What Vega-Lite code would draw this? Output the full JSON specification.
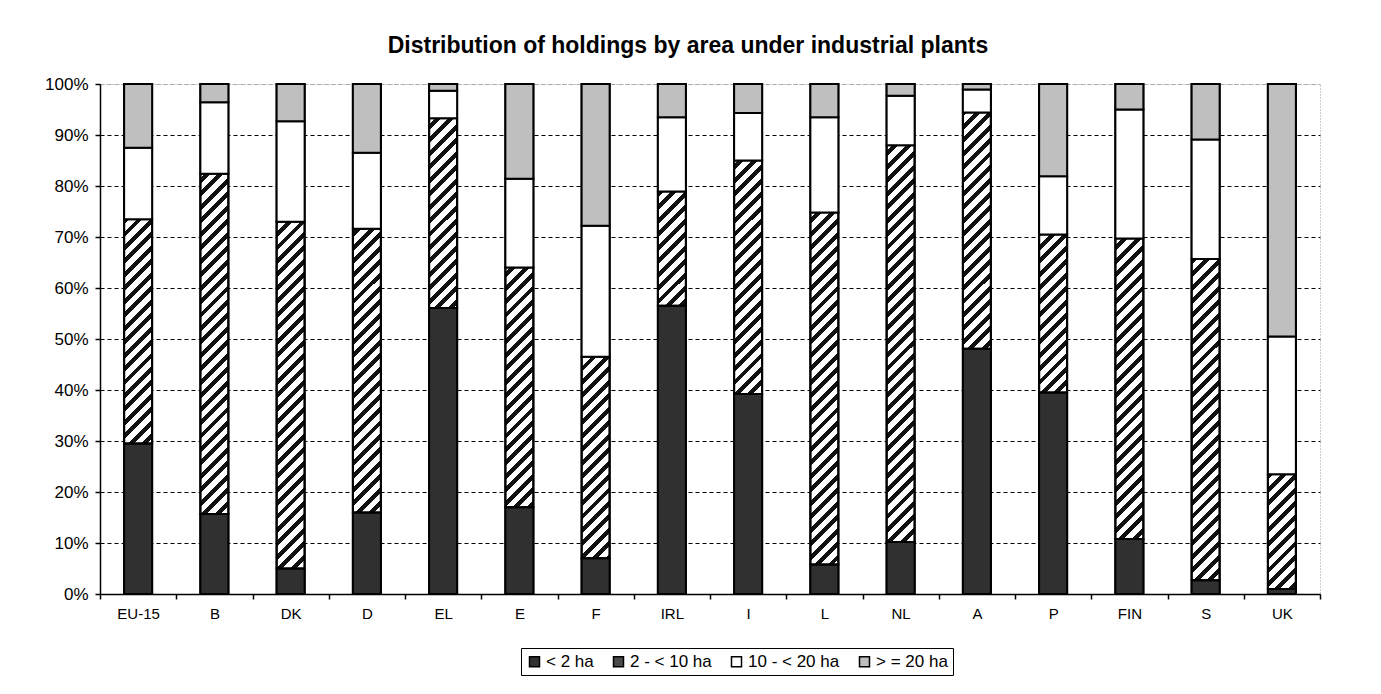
{
"$schema": "https://vega.github.io/schema/vega-lite/v6.json",
"autosize": {"type": "none"},
"width": 1220,
"height": 510,
"padding": {"left": 100, "top": 84, "right": 61, "bottom": 100},
"background": "white",
"title": {"text": "Distribution of holdings by area under industrial plants", "font": "Liberation Sans", "fontSize": 23, "fontWeight": "bold", "color": "black", "anchor": "middle", "frame": "group", "offset": 17, "dx": -22},
"config": {
  "view": {"stroke": "#999999", "strokeDash": [1, 2], "strokeWidth": 1},
  "axis": {"labelFont": "Liberation Sans", "labelColor": "black", "domainColor": "black", "domainWidth": 1.5, "tickColor": "black", "tickWidth": 1.5, "tickSize": 5, "title": null}
},
"data": {"values": [
{"country":"EU-15","cls":"< 2 ha","pct":29.5},{"country":"EU-15","cls":"2 - < 10 ha","pct":44},{"country":"EU-15","cls":"10 - < 20 ha","pct":14},{"country":"EU-15","cls":"> = 20 ha","pct":12.5},
{"country":"B","cls":"< 2 ha","pct":15.7},{"country":"B","cls":"2 - < 10 ha","pct":66.7},{"country":"B","cls":"10 - < 20 ha","pct":14},{"country":"B","cls":"> = 20 ha","pct":3.6},
{"country":"DK","cls":"< 2 ha","pct":5},{"country":"DK","cls":"2 - < 10 ha","pct":68},{"country":"DK","cls":"10 - < 20 ha","pct":19.7},{"country":"DK","cls":"> = 20 ha","pct":7.3},
{"country":"D","cls":"< 2 ha","pct":16},{"country":"D","cls":"2 - < 10 ha","pct":55.6},{"country":"D","cls":"10 - < 20 ha","pct":14.9},{"country":"D","cls":"> = 20 ha","pct":13.5},
{"country":"EL","cls":"< 2 ha","pct":56.1},{"country":"EL","cls":"2 - < 10 ha","pct":37.2},{"country":"EL","cls":"10 - < 20 ha","pct":5.4},{"country":"EL","cls":"> = 20 ha","pct":1.3},
{"country":"E","cls":"< 2 ha","pct":17},{"country":"E","cls":"2 - < 10 ha","pct":47},{"country":"E","cls":"10 - < 20 ha","pct":17.4},{"country":"E","cls":"> = 20 ha","pct":18.6},
{"country":"F","cls":"< 2 ha","pct":7},{"country":"F","cls":"2 - < 10 ha","pct":39.5},{"country":"F","cls":"10 - < 20 ha","pct":25.7},{"country":"F","cls":"> = 20 ha","pct":27.8},
{"country":"IRL","cls":"< 2 ha","pct":56.5},{"country":"IRL","cls":"2 - < 10 ha","pct":22.4},{"country":"IRL","cls":"10 - < 20 ha","pct":14.6},{"country":"IRL","cls":"> = 20 ha","pct":6.5},
{"country":"I","cls":"< 2 ha","pct":39.2},{"country":"I","cls":"2 - < 10 ha","pct":45.8},{"country":"I","cls":"10 - < 20 ha","pct":9.3},{"country":"I","cls":"> = 20 ha","pct":5.7},
{"country":"L","cls":"< 2 ha","pct":5.8},{"country":"L","cls":"2 - < 10 ha","pct":69},{"country":"L","cls":"10 - < 20 ha","pct":18.7},{"country":"L","cls":"> = 20 ha","pct":6.5},
{"country":"NL","cls":"< 2 ha","pct":10.2},{"country":"NL","cls":"2 - < 10 ha","pct":77.8},{"country":"NL","cls":"10 - < 20 ha","pct":9.7},{"country":"NL","cls":"> = 20 ha","pct":2.3},
{"country":"A","cls":"< 2 ha","pct":48.1},{"country":"A","cls":"2 - < 10 ha","pct":46.3},{"country":"A","cls":"10 - < 20 ha","pct":4.5},{"country":"A","cls":"> = 20 ha","pct":1.1},
{"country":"P","cls":"< 2 ha","pct":39.5},{"country":"P","cls":"2 - < 10 ha","pct":31},{"country":"P","cls":"10 - < 20 ha","pct":11.4},{"country":"P","cls":"> = 20 ha","pct":18.1},
{"country":"FIN","cls":"< 2 ha","pct":10.8},{"country":"FIN","cls":"2 - < 10 ha","pct":58.9},{"country":"FIN","cls":"10 - < 20 ha","pct":25.3},{"country":"FIN","cls":"> = 20 ha","pct":5},
{"country":"S","cls":"< 2 ha","pct":2.7},{"country":"S","cls":"2 - < 10 ha","pct":63},{"country":"S","cls":"10 - < 20 ha","pct":23.4},{"country":"S","cls":"> = 20 ha","pct":10.9},
{"country":"UK","cls":"< 2 ha","pct":1},{"country":"UK","cls":"2 - < 10 ha","pct":22.5},{"country":"UK","cls":"10 - < 20 ha","pct":27},{"country":"UK","cls":"> = 20 ha","pct":49.5}
]},
"encoding": {
  "x": {"field": "country", "type": "nominal",
    "sort": ["EU-15","B","DK","D","EL","E","F","IRL","I","L","NL","A","P","FIN","S","UK"],
    "scale": {"paddingInner": 0, "paddingOuter": 0},
    "axis": {"labelAngle": 0, "labelFontSize": 15, "labelPadding": 7, "tickBand": "extent", "grid": false}}
},
"layer": [
  {
    "mark": {"type": "bar", "width": 28, "stroke": "black", "strokeWidth": 2,
      "fill": {"gradient": "linear", "x1": 0, "y1": 0, "x2": 0.0577, "y2": 1.0517, "stops": [
{"offset":0,"color":"#111"},{"offset":0.011,"color":"#111"},{"offset":0.011,"color":"#fff"},{"offset":0.025,"color":"#fff"},
{"offset":0.025,"color":"#111"},{"offset":0.036,"color":"#111"},{"offset":0.036,"color":"#fff"},{"offset":0.05,"color":"#fff"},
{"offset":0.05,"color":"#111"},{"offset":0.061,"color":"#111"},{"offset":0.061,"color":"#fff"},{"offset":0.075,"color":"#fff"},
{"offset":0.075,"color":"#111"},{"offset":0.086,"color":"#111"},{"offset":0.086,"color":"#fff"},{"offset":0.1,"color":"#fff"},
{"offset":0.1,"color":"#111"},{"offset":0.111,"color":"#111"},{"offset":0.111,"color":"#fff"},{"offset":0.125,"color":"#fff"},
{"offset":0.125,"color":"#111"},{"offset":0.136,"color":"#111"},{"offset":0.136,"color":"#fff"},{"offset":0.15,"color":"#fff"},
{"offset":0.15,"color":"#111"},{"offset":0.161,"color":"#111"},{"offset":0.161,"color":"#fff"},{"offset":0.175,"color":"#fff"},
{"offset":0.175,"color":"#111"},{"offset":0.186,"color":"#111"},{"offset":0.186,"color":"#fff"},{"offset":0.2,"color":"#fff"},
{"offset":0.2,"color":"#111"},{"offset":0.211,"color":"#111"},{"offset":0.211,"color":"#fff"},{"offset":0.225,"color":"#fff"},
{"offset":0.225,"color":"#111"},{"offset":0.236,"color":"#111"},{"offset":0.236,"color":"#fff"},{"offset":0.25,"color":"#fff"},
{"offset":0.25,"color":"#111"},{"offset":0.261,"color":"#111"},{"offset":0.261,"color":"#fff"},{"offset":0.275,"color":"#fff"},
{"offset":0.275,"color":"#111"},{"offset":0.286,"color":"#111"},{"offset":0.286,"color":"#fff"},{"offset":0.3,"color":"#fff"},
{"offset":0.3,"color":"#111"},{"offset":0.311,"color":"#111"},{"offset":0.311,"color":"#fff"},{"offset":0.325,"color":"#fff"},
{"offset":0.325,"color":"#111"},{"offset":0.336,"color":"#111"},{"offset":0.336,"color":"#fff"},{"offset":0.35,"color":"#fff"},
{"offset":0.35,"color":"#111"},{"offset":0.361,"color":"#111"},{"offset":0.361,"color":"#fff"},{"offset":0.375,"color":"#fff"},
{"offset":0.375,"color":"#111"},{"offset":0.386,"color":"#111"},{"offset":0.386,"color":"#fff"},{"offset":0.4,"color":"#fff"},
{"offset":0.4,"color":"#111"},{"offset":0.411,"color":"#111"},{"offset":0.411,"color":"#fff"},{"offset":0.425,"color":"#fff"},
{"offset":0.425,"color":"#111"},{"offset":0.436,"color":"#111"},{"offset":0.436,"color":"#fff"},{"offset":0.45,"color":"#fff"},
{"offset":0.45,"color":"#111"},{"offset":0.461,"color":"#111"},{"offset":0.461,"color":"#fff"},{"offset":0.475,"color":"#fff"},
{"offset":0.475,"color":"#111"},{"offset":0.486,"color":"#111"},{"offset":0.486,"color":"#fff"},{"offset":0.5,"color":"#fff"},
{"offset":0.5,"color":"#111"},{"offset":0.511,"color":"#111"},{"offset":0.511,"color":"#fff"},{"offset":0.525,"color":"#fff"},
{"offset":0.525,"color":"#111"},{"offset":0.536,"color":"#111"},{"offset":0.536,"color":"#fff"},{"offset":0.55,"color":"#fff"},
{"offset":0.55,"color":"#111"},{"offset":0.561,"color":"#111"},{"offset":0.561,"color":"#fff"},{"offset":0.575,"color":"#fff"},
{"offset":0.575,"color":"#111"},{"offset":0.586,"color":"#111"},{"offset":0.586,"color":"#fff"},{"offset":0.6,"color":"#fff"},
{"offset":0.6,"color":"#111"},{"offset":0.611,"color":"#111"},{"offset":0.611,"color":"#fff"},{"offset":0.625,"color":"#fff"},
{"offset":0.625,"color":"#111"},{"offset":0.636,"color":"#111"},{"offset":0.636,"color":"#fff"},{"offset":0.65,"color":"#fff"},
{"offset":0.65,"color":"#111"},{"offset":0.661,"color":"#111"},{"offset":0.661,"color":"#fff"},{"offset":0.675,"color":"#fff"},
{"offset":0.675,"color":"#111"},{"offset":0.686,"color":"#111"},{"offset":0.686,"color":"#fff"},{"offset":0.7,"color":"#fff"},
{"offset":0.7,"color":"#111"},{"offset":0.711,"color":"#111"},{"offset":0.711,"color":"#fff"},{"offset":0.725,"color":"#fff"},
{"offset":0.725,"color":"#111"},{"offset":0.736,"color":"#111"},{"offset":0.736,"color":"#fff"},{"offset":0.75,"color":"#fff"},
{"offset":0.75,"color":"#111"},{"offset":0.761,"color":"#111"},{"offset":0.761,"color":"#fff"},{"offset":0.775,"color":"#fff"},
{"offset":0.775,"color":"#111"},{"offset":0.786,"color":"#111"},{"offset":0.786,"color":"#fff"},{"offset":0.8,"color":"#fff"},
{"offset":0.8,"color":"#111"},{"offset":0.811,"color":"#111"},{"offset":0.811,"color":"#fff"},{"offset":0.825,"color":"#fff"},
{"offset":0.825,"color":"#111"},{"offset":0.836,"color":"#111"},{"offset":0.836,"color":"#fff"},{"offset":0.85,"color":"#fff"},
{"offset":0.85,"color":"#111"},{"offset":0.861,"color":"#111"},{"offset":0.861,"color":"#fff"},{"offset":0.875,"color":"#fff"},
{"offset":0.875,"color":"#111"},{"offset":0.886,"color":"#111"},{"offset":0.886,"color":"#fff"},{"offset":0.9,"color":"#fff"},
{"offset":0.9,"color":"#111"},{"offset":0.911,"color":"#111"},{"offset":0.911,"color":"#fff"},{"offset":0.925,"color":"#fff"},
{"offset":0.925,"color":"#111"},{"offset":0.936,"color":"#111"},{"offset":0.936,"color":"#fff"},{"offset":0.95,"color":"#fff"},
{"offset":0.95,"color":"#111"},{"offset":0.961,"color":"#111"},{"offset":0.961,"color":"#fff"},{"offset":0.975,"color":"#fff"},
{"offset":0.975,"color":"#111"},{"offset":0.986,"color":"#111"},{"offset":0.986,"color":"#fff"},{"offset":1,"color":"#fff"}
      ]}},
    "encoding": {
      "y": {"aggregate": "sum", "field": "pct", "type": "quantitative", "stack": null,
        "scale": {"domain": [0, 100], "nice": false},
        "axis": {"labelExpr": "datum.value + '%'", "values": [0,10,20,30,40,50,60,70,80,90,100], "labelFontSize": 17, "labelPadding": 7, "grid": true,
          "gridColor": {"condition": {"test": "datum.value >= 100", "value": "#aaaaaa"}, "value": "black"}, "gridDash": [4, 3], "gridWidth": 1}}
    }
  },
  {
    "transform": [{"calculate": "indexof(['< 2 ha','2 - < 10 ha','10 - < 20 ha','> = 20 ha'], datum.cls)", "as": "stackOrder"}],
    "mark": {"type": "bar", "width": 28, "stroke": "black", "strokeWidth": 2},
    "encoding": {
      "y": {"field": "pct", "type": "quantitative", "stack": "zero",
        "scale": {"domain": [0, 100], "nice": false},
        "axis": {"labelExpr": "datum.value + '%'", "values": [0,10,20,30,40,50,60,70,80,90,100], "labelFontSize": 17, "labelPadding": 7, "grid": true,
          "gridColor": {"condition": {"test": "datum.value >= 100", "value": "#aaaaaa"}, "value": "black"}, "gridDash": [4, 3], "gridWidth": 1}},
      "order": {"field": "stackOrder", "type": "quantitative", "sort": "ascending"},
      "color": {"field": "cls", "type": "nominal",
        "sort": ["< 2 ha", "2 - < 10 ha", "10 - < 20 ha", "> = 20 ha"],
        "scale": {"domain": ["< 2 ha", "2 - < 10 ha", "10 - < 20 ha", "> = 20 ha"], "range": ["#303030", "#4a4a4a", "#ffffff", "#bfbfbf"]},
        "legend": {"orient": "none", "legendX": 421, "legendY": 564, "direction": "horizontal", "columns": 4, "title": null,
          "strokeColor": "black", "padding": 5, "symbolType": "square", "symbolSize": 100, "symbolStrokeColor": "black", "symbolStrokeWidth": 1.5,
          "labelFont": "Liberation Sans", "labelFontSize": 17, "labelColor": "black", "labelOffset": 3, "columnPadding": 16, "symbolOpacity": 1}},
      "fillOpacity": {"condition": {"test": "datum.cls === '2 - < 10 ha'", "value": 0}, "value": 1}
    }
  }
]
}
